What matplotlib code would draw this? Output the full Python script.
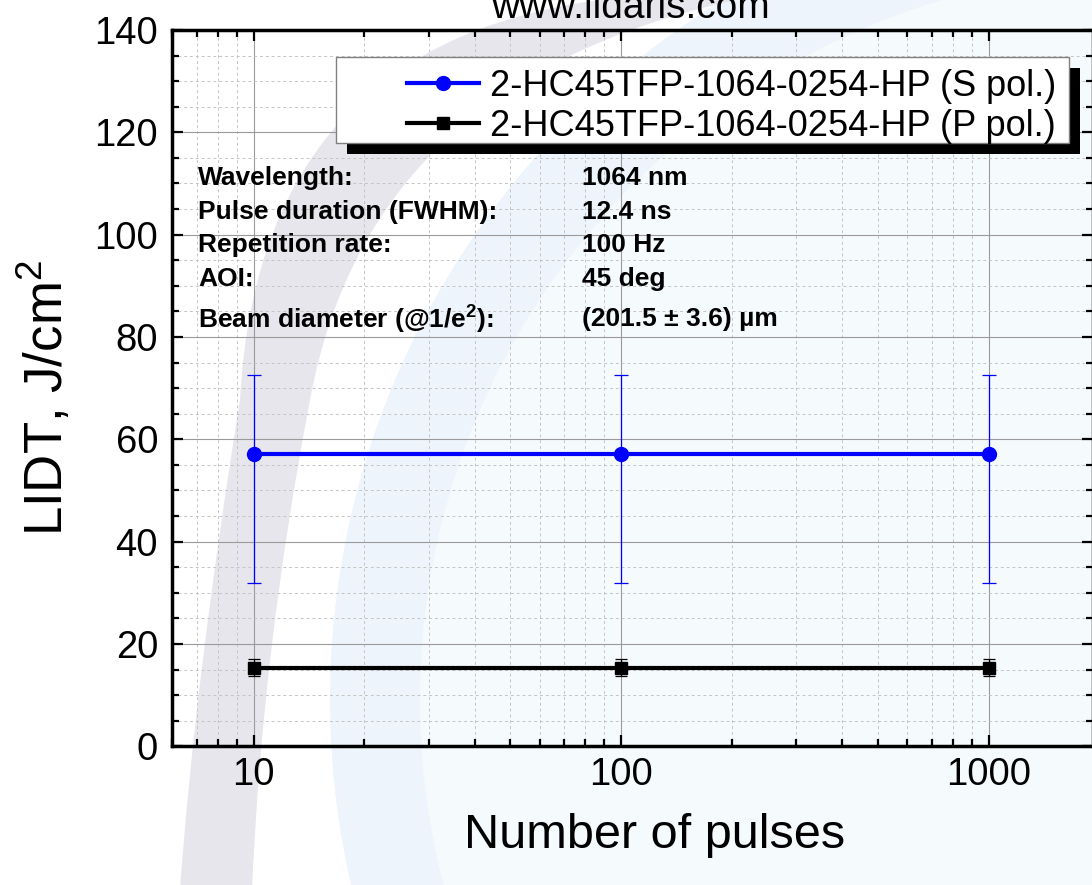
import matplotlib
matplotlib.use("Agg")
import matplotlib.pyplot as plt
from matplotlib.patches import Rectangle, Wedge, Circle, PathPatch
from matplotlib.path import Path
from matplotlib.lines import Line2D
from matplotlib.transforms import Affine2D
from matplotlib.ticker import LogLocator, FixedLocator, MultipleLocator, NullFormatter

plt.rcParams['font.family'] = ['Liberation Sans', 'DejaVu Sans']
plt.rcParams['mathtext.fontset'] = 'custom'
plt.rcParams['mathtext.rm'] = 'Liberation Sans'
plt.rcParams['mathtext.bf'] = 'Liberation Sans:bold'

# data
pulses = [10, 100, 1000]
lidt_s = [57.2, 57.2, 57.2]
err_s_minus = [25.2, 25.2, 25.2]
err_s_plus = [15.4, 15.4, 15.4]
lidt_p = [15.4, 15.4, 15.4]
err_p = [1.7, 1.7, 1.7]

label_s = "2-HC45TFP-1064-0254-HP (S pol.)"
label_p = "2-HC45TFP-1064-0254-HP (P pol.)"

info_keys = ["Wavelength:", "Pulse duration (FWHM):", "Repetition rate:", "AOI:",
             r"Beam diameter (@1/e$^\mathbf{2}$):"]
info_vals = ["1064 nm", "12.4 ns", "100 Hz", "45 deg", "(201.5 \u00b1 3.6) \u00b5m"]
info_rows = [178, 212, 245, 279, 319]   # pixel rows of the info block

W, H = 1092, 885
fig = plt.figure(figsize=(W / 100, H / 100), dpi=100)
px = Affine2D().scale(1 / W, -1 / H).translate(0, 1) + fig.transFigure

# faint logo watermark behind the plot
fig.add_artist(Circle((1150, 700), 730, transform=px, color='#f5fafd', zorder=-3, lw=0))
fig.add_artist(Wedge((1150, 700), 820, 0, 360, width=90, transform=px,
                     color='#edf4fb', zorder=-2, lw=0))
verts = [(650, -5), (260, 20), (240, 400), (195, 680), (180, 890),
         (252, 890), (262, 650), (310, 400), (370, 70), (760, -5), (650, -5)]
codes = [Path.MOVETO, Path.CURVE3, Path.CURVE3, Path.CURVE3, Path.CURVE3,
         Path.LINETO, Path.CURVE3, Path.CURVE3, Path.CURVE3, Path.CURVE3, Path.CLOSEPOLY]
fig.add_artist(PathPatch(Path(verts, codes), transform=px, facecolor='#e6e6ec',
                         edgecolor='none', zorder=-1))

ax = fig.add_axes([172 / W, 1 - 746.3 / H, (1093 - 172) / W, (746.3 - 30) / H])
ax.set_facecolor('none')

ax.errorbar(pulses, lidt_s, yerr=[err_s_minus, err_s_plus], color='#0000ff', lw=3,
            marker='o', ms=10, ecolor='#0000ff', elinewidth=0.9, capsize=5,
            capthick=0.9, zorder=3)
ax.errorbar(pulses, lidt_p, yerr=err_p, color='black', lw=3, marker='s', ms=8.5,
            ecolor='black', elinewidth=0.9, capsize=4.5, capthick=0.9, zorder=3)

ax.set_xscale('log')
ax.set_xlim(6, 1923)
ax.set_ylim(0, 140)
ax.xaxis.set_major_locator(FixedLocator([10, 100, 1000]))
ax.xaxis.set_minor_locator(LogLocator(base=10, subs=range(2, 10)))
ax.xaxis.set_minor_formatter(NullFormatter())
ax.set_xticklabels(['10', '100', '1000'])
ax.yaxis.set_major_locator(MultipleLocator(20))
ax.yaxis.set_minor_locator(MultipleLocator(5))

ax.grid(True, which='major', color='#9a9a9a', lw=0.8, zorder=0)
ax.grid(True, which='minor', color='#c4c4c4', lw=0.7, ls=(0, (3, 3)), zorder=0)
ax.set_axisbelow(True)

for s in ax.spines.values():
    s.set_linewidth(2.5)
ax.tick_params(which='both', direction='in', top=True, right=True, labelsize=27.5, width=1.6)
ax.tick_params(which='major', length=8)
ax.tick_params(which='minor', length=5)
ax.tick_params(axis='y', pad=10)
ax.tick_params(axis='x', pad=8)

ax.set_xlabel("Number of pulses", fontsize=35, va='center')
ax.xaxis.set_label_coords(655 / W, 1 - 835 / H, transform=fig.transFigure)
ax.set_ylabel(r"LIDT, J/cm$^\mathregular{2}$", fontsize=38, va='center', ha='center')
ax.yaxis.set_label_coords(45 / W, 1 - 398 / H, transform=fig.transFigure)

fig.text(630 / W, 1 - 18 / H, "www.lidaris.com", fontsize=28, ha='center', va='baseline')

# legend box with hard black shadow
ax.add_patch(Rectangle((347, 68), 733, 86, transform=px, facecolor='black',
                       edgecolor='none', zorder=4, clip_on=False))
ax.add_patch(Rectangle((336, 57), 733, 86, transform=px, facecolor='white',
                       edgecolor='#808080', lw=1, zorder=4.5, clip_on=False))
handles = [Line2D([], [], color='#0000ff', lw=3, marker='o', ms=10),
           Line2D([], [], color='black', lw=3, marker='s', ms=8)]
leg = ax.legend(handles, [label_s, label_p], loc='upper left',
                bbox_to_anchor=(407 / W, 1 - 69 / H),
                bbox_transform=fig.transFigure, frameon=False, fontsize=26,
                borderpad=0, borderaxespad=0, handlelength=2.0, handletextpad=0.3,
                labelspacing=0.14)
leg.set_zorder(6)

for key, val, row in zip(info_keys, info_vals, info_rows):
    ax.text(198 / W, 1 - row / H, key, transform=fig.transFigure, fontsize=19,
            fontweight='bold', va='center', zorder=5)
    ax.text(582 / W, 1 - row / H, val, transform=fig.transFigure, fontsize=19,
            fontweight='bold', va='center', zorder=5)

fig.savefig("out.png", dpi=100)
